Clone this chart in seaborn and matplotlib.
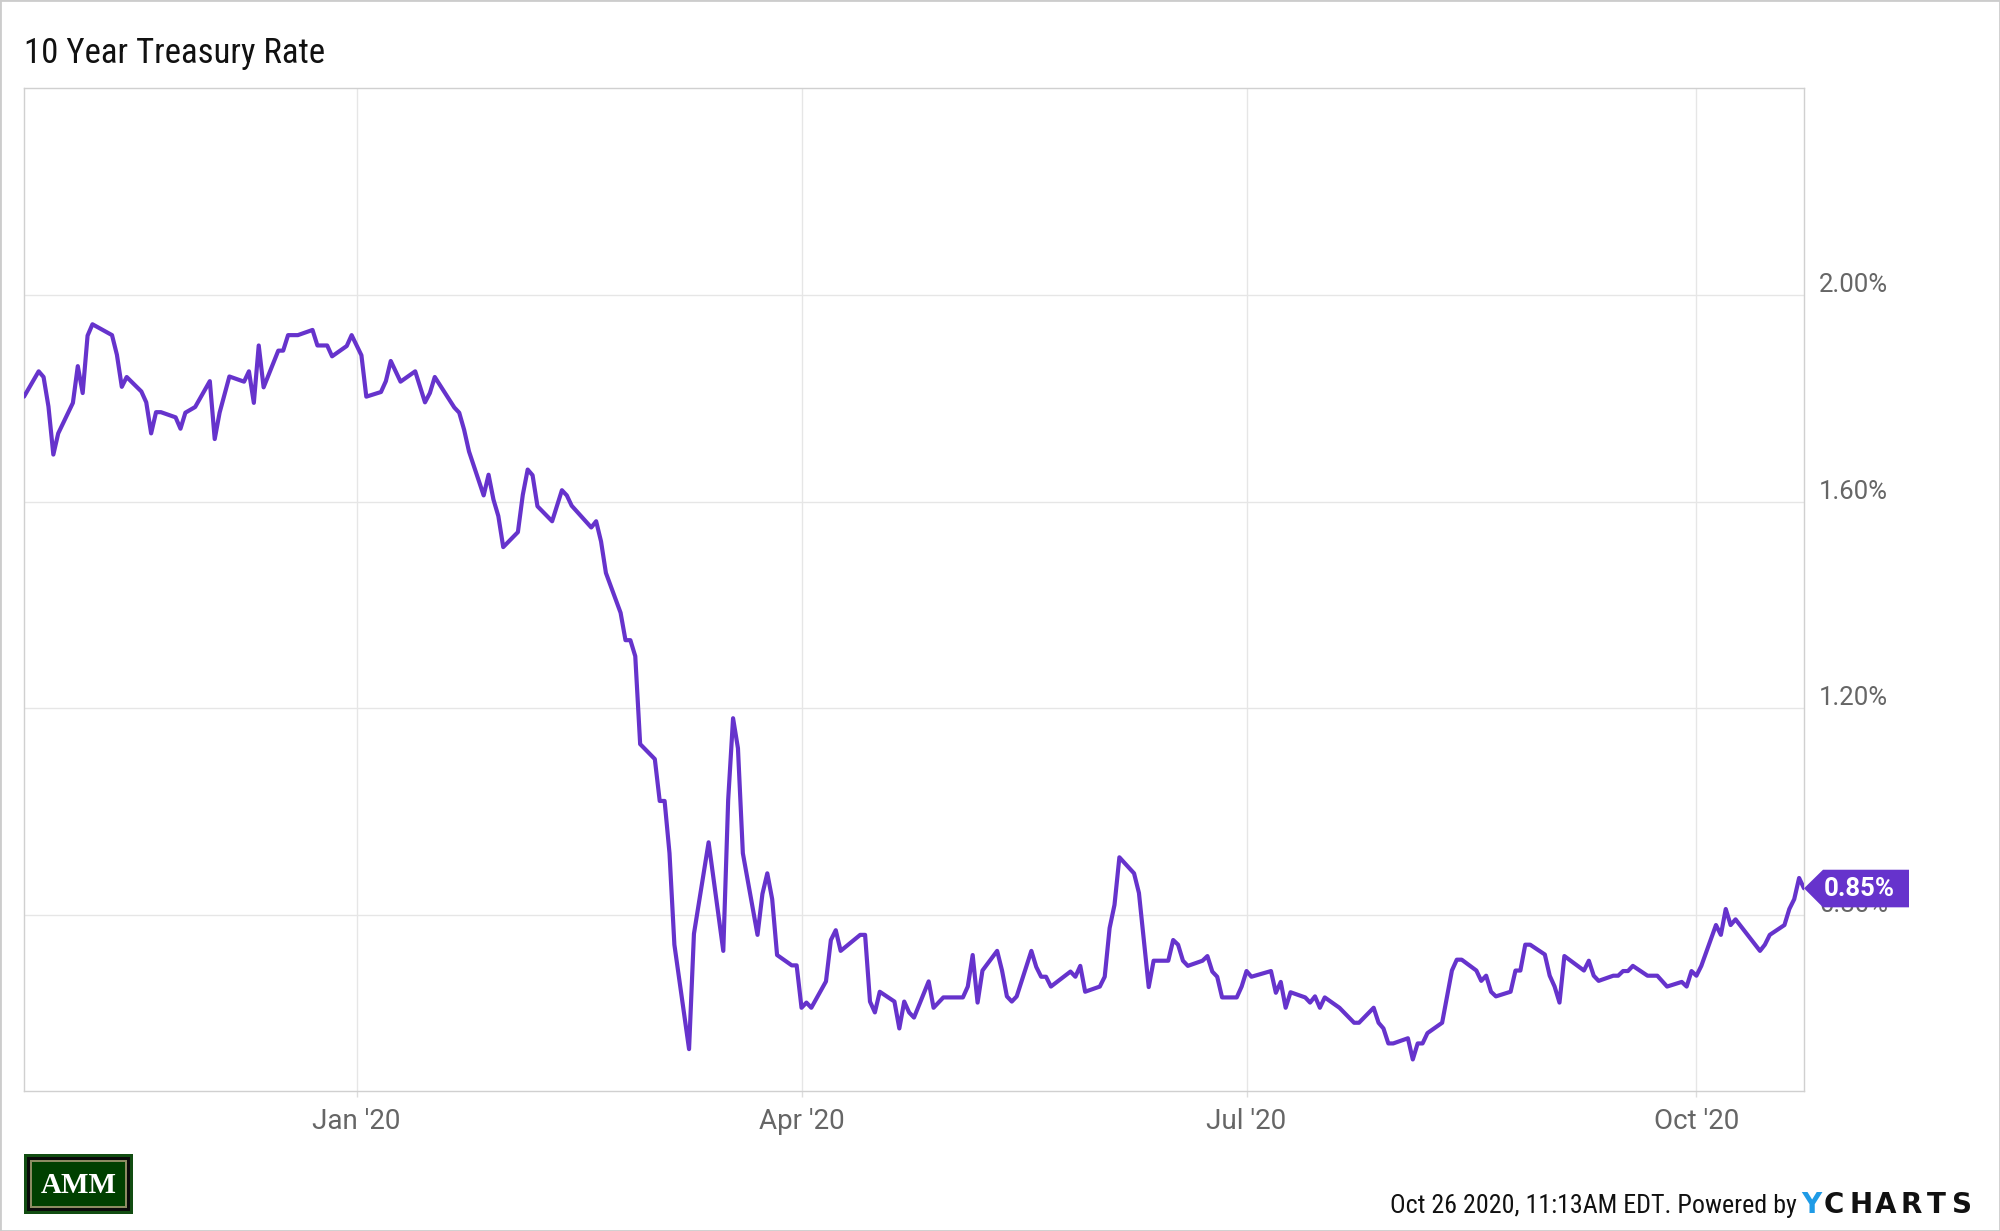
import matplotlib
matplotlib.use("Agg")
import matplotlib.pyplot as plt
import matplotlib.dates as mdates
import matplotlib.transforms as mtransforms
from matplotlib.patches import Polygon, Rectangle
import seaborn as sns
import pandas as pd

# ---------------- data ----------------
dates = [
    "2019-10-25", "2019-10-28", "2019-10-29", "2019-10-30", "2019-10-31", "2019-11-01",
    "2019-11-04", "2019-11-05", "2019-11-06", "2019-11-07", "2019-11-08",
    "2019-11-12", "2019-11-13", "2019-11-14", "2019-11-15",
    "2019-11-18", "2019-11-19", "2019-11-20", "2019-11-21", "2019-11-22",
    "2019-11-25", "2019-11-26", "2019-11-27", "2019-11-29",
    "2019-12-02", "2019-12-03", "2019-12-04", "2019-12-06",
    "2019-12-09", "2019-12-10", "2019-12-11", "2019-12-12", "2019-12-13",
    "2019-12-16", "2019-12-17", "2019-12-18", "2019-12-20",
    "2019-12-23", "2019-12-24", "2019-12-26", "2019-12-27",
    "2019-12-30", "2019-12-31", "2020-01-02", "2020-01-03",
    "2020-01-06", "2020-01-07", "2020-01-08", "2020-01-10",
    "2020-01-13", "2020-01-15", "2020-01-16", "2020-01-17",
    "2020-01-21", "2020-01-22", "2020-01-23", "2020-01-24",
    "2020-01-27", "2020-01-28", "2020-01-29", "2020-01-30", "2020-01-31",
    "2020-02-03", "2020-02-04", "2020-02-05", "2020-02-06", "2020-02-07",
    "2020-02-10", "2020-02-12", "2020-02-13", "2020-02-14",
    "2020-02-18", "2020-02-19", "2020-02-20", "2020-02-21",
    "2020-02-24", "2020-02-25", "2020-02-26", "2020-02-27", "2020-02-28",
    "2020-03-02", "2020-03-03", "2020-03-04", "2020-03-05", "2020-03-06",
    "2020-03-09", "2020-03-10", "2020-03-13",
    "2020-03-16", "2020-03-17", "2020-03-18", "2020-03-19", "2020-03-20",
    "2020-03-23", "2020-03-24", "2020-03-25", "2020-03-26", "2020-03-27",
    "2020-03-30", "2020-03-31", "2020-04-01", "2020-04-02", "2020-04-03",
    "2020-04-06", "2020-04-07", "2020-04-08", "2020-04-09",
    "2020-04-13", "2020-04-14", "2020-04-15", "2020-04-16", "2020-04-17",
    "2020-04-20", "2020-04-21", "2020-04-22", "2020-04-23", "2020-04-24",
    "2020-04-27", "2020-04-28", "2020-04-30",
    "2020-05-04", "2020-05-05", "2020-05-06", "2020-05-07", "2020-05-08",
    "2020-05-11", "2020-05-12", "2020-05-13", "2020-05-14", "2020-05-15",
    "2020-05-18", "2020-05-19", "2020-05-20", "2020-05-21", "2020-05-22",
    "2020-05-26", "2020-05-27", "2020-05-28", "2020-05-29",
    "2020-06-01", "2020-06-02", "2020-06-03", "2020-06-04", "2020-06-05",
    "2020-06-08", "2020-06-09", "2020-06-11", "2020-06-12",
    "2020-06-15", "2020-06-16", "2020-06-17", "2020-06-18", "2020-06-19",
    "2020-06-22", "2020-06-23", "2020-06-24", "2020-06-25", "2020-06-26",
    "2020-06-29", "2020-06-30", "2020-07-01", "2020-07-02",
    "2020-07-06", "2020-07-07", "2020-07-08", "2020-07-09", "2020-07-10",
    "2020-07-13", "2020-07-14", "2020-07-15", "2020-07-16", "2020-07-17",
    "2020-07-20", "2020-07-23", "2020-07-24",
    "2020-07-27", "2020-07-28", "2020-07-29", "2020-07-30", "2020-07-31",
    "2020-08-03", "2020-08-04", "2020-08-05", "2020-08-06", "2020-08-07",
    "2020-08-10", "2020-08-11", "2020-08-12", "2020-08-13", "2020-08-14",
    "2020-08-17", "2020-08-18", "2020-08-19", "2020-08-20", "2020-08-21",
    "2020-08-24", "2020-08-25", "2020-08-26", "2020-08-27", "2020-08-28",
    "2020-08-31", "2020-09-01", "2020-09-02", "2020-09-03", "2020-09-04",
    "2020-09-08", "2020-09-09", "2020-09-10", "2020-09-11",
    "2020-09-14", "2020-09-15", "2020-09-16", "2020-09-17", "2020-09-18",
    "2020-09-21", "2020-09-23", "2020-09-25",
    "2020-09-28", "2020-09-29", "2020-09-30", "2020-10-01", "2020-10-02",
    "2020-10-05", "2020-10-06", "2020-10-07", "2020-10-08", "2020-10-09",
    "2020-10-14", "2020-10-15", "2020-10-16",
    "2020-10-19", "2020-10-20", "2020-10-21", "2020-10-22", "2020-10-23",
]

rates = [
    1.803, 1.852, 1.841, 1.784, 1.691, 1.732,
    1.791, 1.862, 1.810, 1.921, 1.943,
    1.922, 1.884, 1.822, 1.841,
    1.813, 1.792, 1.732, 1.773, 1.773,
    1.763, 1.741, 1.772, 1.783,
    1.833, 1.721, 1.772, 1.842,
    1.832, 1.852, 1.791, 1.902, 1.821,
    1.892, 1.892, 1.922, 1.922,
    1.932, 1.902, 1.902, 1.881,
    1.901, 1.922, 1.883, 1.803,
    1.812, 1.833, 1.872, 1.832,
    1.852, 1.792, 1.810, 1.841,
    1.782, 1.772, 1.739, 1.697,
    1.612, 1.652, 1.604, 1.572, 1.512,
    1.541, 1.613, 1.662, 1.651, 1.591,
    1.562, 1.622, 1.612, 1.592,
    1.550, 1.562, 1.523, 1.462,
    1.385, 1.332, 1.332, 1.301, 1.131,
    1.102, 1.021, 1.021, 0.920, 0.743,
    0.541, 0.764, 0.941,
    0.731, 1.023, 1.181, 1.123, 0.920,
    0.762, 0.841, 0.881, 0.831, 0.723,
    0.703, 0.703, 0.621, 0.631, 0.621,
    0.672, 0.752, 0.771, 0.731,
    0.762, 0.762, 0.633, 0.612, 0.652,
    0.633, 0.581, 0.633, 0.612, 0.602,
    0.672, 0.621, 0.641,
    0.641, 0.662, 0.723, 0.631, 0.693,
    0.731, 0.693, 0.643, 0.633, 0.643,
    0.731, 0.700, 0.681, 0.681, 0.662,
    0.691, 0.681, 0.702, 0.652,
    0.662, 0.681, 0.775, 0.820, 0.912,
    0.881, 0.843, 0.661, 0.712,
    0.712, 0.752, 0.743, 0.712, 0.702,
    0.712, 0.721, 0.691, 0.681, 0.641,
    0.641, 0.662, 0.692, 0.681,
    0.692, 0.650, 0.671, 0.621, 0.651,
    0.641, 0.631, 0.643, 0.621, 0.641,
    0.621, 0.592, 0.592,
    0.621, 0.592, 0.581, 0.552, 0.552,
    0.562, 0.521, 0.552, 0.552, 0.572,
    0.592, 0.643, 0.693, 0.714, 0.714,
    0.693, 0.673, 0.683, 0.652, 0.643,
    0.652, 0.693, 0.693, 0.743, 0.743,
    0.724, 0.683, 0.662, 0.631, 0.721,
    0.693, 0.712, 0.683, 0.673,
    0.683, 0.683, 0.692, 0.692, 0.702,
    0.683, 0.683, 0.662,
    0.671, 0.662, 0.692, 0.683, 0.702,
    0.781, 0.762, 0.812, 0.781, 0.792,
    0.731, 0.743, 0.762,
    0.781, 0.812, 0.831, 0.872, 0.852,
]

xtick_dates = ["2020-01-01", "2020-04-01", "2020-07-01", "2020-10-01"]
xtick_labels = ["Jan '20", "Apr '20", "Jul '20", "Oct '20"]
ytick_values = [0.80, 1.20, 1.60, 2.00]
ytick_labels = ["0.80%", "1.20%", "1.60%", "2.00%"]
y_limits = (0.46, 2.40)

title_text = "10 Year Treasury Rate"
footer_text = "Oct 26 2020, 11:13AM EDT. Powered by"

# ---------------- style ----------------
LINE = "#6633cc"
GRID = "#e6e6e6"
SPINE = "#d0d0d0"
LABEL = "#666666"

sns.set_theme(style="white")
plt.rcParams["font.family"] = ["Roboto", "DejaVu Sans"]

df = pd.DataFrame({"date": pd.to_datetime(dates), "rate": rates})

W, H = 2000, 1231
fig = plt.figure(figsize=(W / 100, H / 100), dpi=100)
fig.patch.set_facecolor("white")

L, R, T, B = 24, 1804, 88, 1091
ax = fig.add_axes([L / W, 1 - B / H, (R - L) / W, (B - T) / H])
ax.set_facecolor("white")

sns.lineplot(data=df, x="date", y="rate", ax=ax, color=LINE, linewidth=3.0,
             solid_joinstyle="round", solid_capstyle="round", zorder=5)

ax.set_xlim(df["date"].iloc[0], df["date"].iloc[-1])
ax.set_ylim(*y_limits)
ax.set_xlabel("")
ax.set_ylabel("")

ax.set_xticks(pd.to_datetime(xtick_dates))
ax.set_xticklabels(xtick_labels)
ax.yaxis.tick_right()
ax.set_yticks(ytick_values)
ax.set_yticklabels(ytick_labels)

ax.grid(True, color=GRID, linewidth=1.0)
ax.set_axisbelow(True)
for s in ax.spines.values():
    s.set_visible(True)
    s.set_color(SPINE)
    s.set_linewidth(1.0)

ax.tick_params(axis="x", which="major", direction="out", length=4, width=1,
               color="#dddddd", pad=8, labelsize=20, labelcolor=LABEL,
               bottom=True)
ax.tick_params(axis="y", which="major", length=0, pad=11, labelsize=18.5,
               labelcolor=LABEL, right=False, labelright=True, left=False,
               labelleft=False)

shift = mtransforms.ScaledTranslation(0, 3.0 / 100, fig.dpi_scale_trans)
for lbl in ax.yaxis.get_ticklabels(which="major"):
    lbl.set_va("baseline")
    lbl.set_transform(lbl.get_transform() + shift)

# ---------------- last-value badge ----------------
last_x = mdates.date2num(df["date"].iloc[-1])
last_y = df["rate"].iloc[-1]
anchor = fig.dpi_scale_trans + mtransforms.ScaledTranslation(last_x, last_y, ax.transData)
badge = Polygon([(0, 0), (0.19, 0.186), (1.05, 0.186), (1.05, -0.19), (0.19, -0.19)],
                closed=True, transform=anchor, facecolor=LINE, edgecolor="none",
                clip_on=False, zorder=20)
ax.add_patch(badge)
ax.text(0.555, -0.074, f"{last_y:.2f}%", transform=anchor, ha="center",
        va="baseline", color="white", fontsize=18.5, fontweight="bold",
        zorder=21, clip_on=False)

# ---------------- title / footer ----------------
fig.text(24 / W, 1 - 63 / H, title_text, ha="left", va="baseline",
         fontsize=25, color="#111111", family=["Roboto Condensed", "Roboto", "DejaVu Sans"])

fig.text(1797 / W, 1 - 1213 / H, footer_text, ha="right", va="baseline",
         fontsize=18.7, color="#111111", family=["Roboto Condensed", "Roboto", "DejaVu Sans"])
fig.text(1801 / W, 1 - 1213 / H, "Y", ha="left", va="baseline", fontsize=20,
         fontweight="bold", color="#1f9be6", family=["DejaVu Sans"])
for i, ch in enumerate("CHARTS"):
    fig.text((1824 + i * 25.6) / W, 1 - 1213 / H, ch, ha="left", va="baseline",
             fontsize=20, fontweight="bold", color="#111111", family=["DejaVu Sans"])

# AMM logo
def px_rect(x0, y0, x1, y1, color):
    fig.patches.append(Rectangle((x0 / W, 1 - y1 / H), (x1 - x0) / W, (y1 - y0) / H,
                                 transform=fig.transFigure, facecolor=color,
                                 edgecolor="none", zorder=1))

px_rect(24, 1154, 133, 1214, "#124d12")
px_rect(27, 1157, 130, 1211, "#0a0a0a")
px_rect(30, 1160, 127, 1208, "#8c8c62")
px_rect(32, 1162, 125, 1206, "#004000")
fig.text(78.5 / W, 1 - 1193 / H, "AMM", ha="center", va="baseline", fontsize=21,
         fontweight="bold", color="white", family=["Liberation Serif", "DejaVu Serif"],
         zorder=5)

# outer frame
fig.patches.append(Rectangle((0, 0), 1, 1, transform=fig.transFigure, fill=False,
                             edgecolor="#cccccc", linewidth=2.0, zorder=0))

fig.savefig("out.png", dpi=100, facecolor="white")
